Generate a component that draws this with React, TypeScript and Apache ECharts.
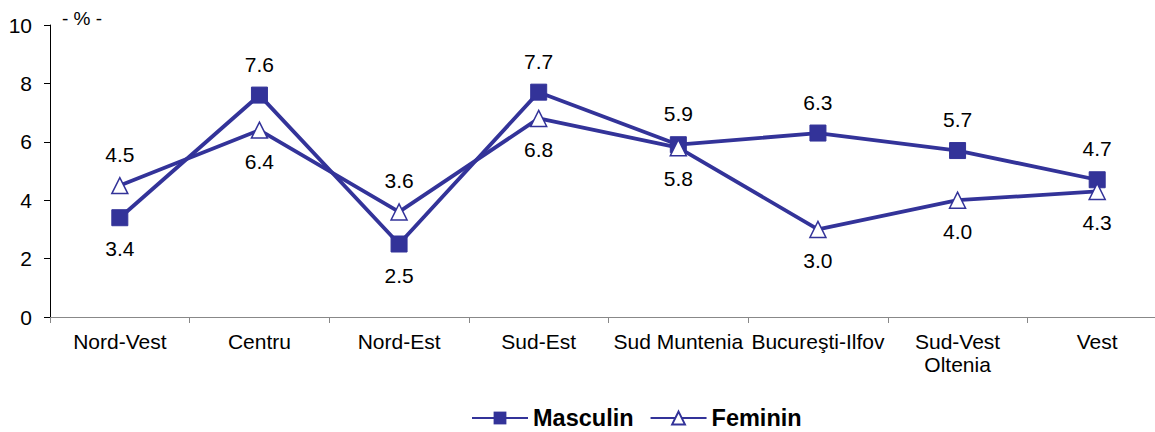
import React, { useEffect, useRef } from "react";
import * as echarts from "echarts";

const categories = [
  "Nord-Vest",
  "Centru",
  "Nord-Est",
  "Sud-Est",
  "Sud Muntenia",
  "Bucureşti-Ilfov",
  "Sud-Vest\nOltenia",
  "Vest",
];
const masculin = [3.4, 7.6, 2.5, 7.7, 5.9, 6.3, 5.7, 4.7];
const feminin = [4.5, 6.4, 3.6, 6.8, 5.8, 3.0, 4.0, 4.3];
const masculinLabelPos = ["bottom", "top", "bottom", "top", "top", "top", "top", "top"];
const femininLabelPos = ["top", "bottom", "top", "bottom", "bottom", "bottom", "bottom", "bottom"];

const COLOR = "#333399";
const FONT = "'Liberation Sans', Arial, sans-serif";

export default function App() {
  const ref = useRef<HTMLDivElement>(null);
  useEffect(() => {
    if (!ref.current) return;
    const chart = echarts.init(ref.current, undefined, { renderer: "svg" });
    const labelBase = {
      show: true,
      fontSize: 21,
      color: "#000",
      fontFamily: FONT,
      distance: 12,
      formatter: (p: any) => Number(p.value).toFixed(1),
    };
    chart.setOption({
      animation: false,
      textStyle: { fontFamily: FONT },
      grid: { left: 50, right: 0, top: 25, bottom: 115, containLabel: false },
      graphic: [
        {
          type: "text",
          left: 62,
          top: 9,
          style: { text: "- % -", fontSize: 19, fill: "#000", fontFamily: FONT },
        },
      ],
      legend: {
        bottom: -3,
        left: 466,
        itemWidth: 56,
        itemHeight: 16,
        itemGap: 16,
        textStyle: { fontSize: 23.5, fontWeight: "bold", color: "#000", fontFamily: FONT },
        data: ["Masculin", "Feminin"],
      },
      xAxis: {
        type: "category",
        data: categories,
        boundaryGap: true,
        axisLine: { lineStyle: { color: "#888", width: 1 } },
        axisTick: { show: true, length: 6, lineStyle: { color: "#888" } },
        axisLabel: {
          fontSize: 21,
          color: "#000",
          fontFamily: FONT,
          margin: 13,
          interval: 0,
          lineHeight: 23,
        },
      },
      yAxis: {
        type: "value",
        min: 0,
        max: 10,
        interval: 2,
        splitLine: { show: false },
        axisLine: { show: true, lineStyle: { color: "#000", width: 1 } },
        axisTick: { show: true, length: 6, lineStyle: { color: "#000" } },
        axisLabel: { fontSize: 21, color: "#000", fontFamily: FONT, margin: 18 },
      },
      series: [
        {
          name: "Masculin",
          type: "line",
          data: masculin.map((v, i) => ({
            value: v,
            label: { ...labelBase, position: masculinLabelPos[i] },
          })),
          symbol: "rect",
          symbolSize: 16,
          lineStyle: { color: COLOR, width: 3.8 },
          itemStyle: { color: COLOR, borderColor: COLOR },
          label: labelBase,
          z: 2,
        },
        {
          name: "Feminin",
          type: "line",
          data: feminin.map((v, i) => ({
            value: v,
            label: { ...labelBase, position: femininLabelPos[i] },
          })),
          symbol: "triangle",
          symbolSize: 16,
          lineStyle: { color: COLOR, width: 3.8 },
          itemStyle: { color: "#fff", borderColor: COLOR, borderWidth: 1.5 },
          label: labelBase,
          z: 3,
        },
      ],
    });
    return () => chart.dispose();
  }, []);
  return (
    <div
      style={{ position: "fixed", left: 0, top: 0, width: 1155, height: 432, overflow: "hidden", background: "#fff" }}
    >
      <div ref={ref} style={{ width: 1167, height: 432 }} />
    </div>
  );
}
